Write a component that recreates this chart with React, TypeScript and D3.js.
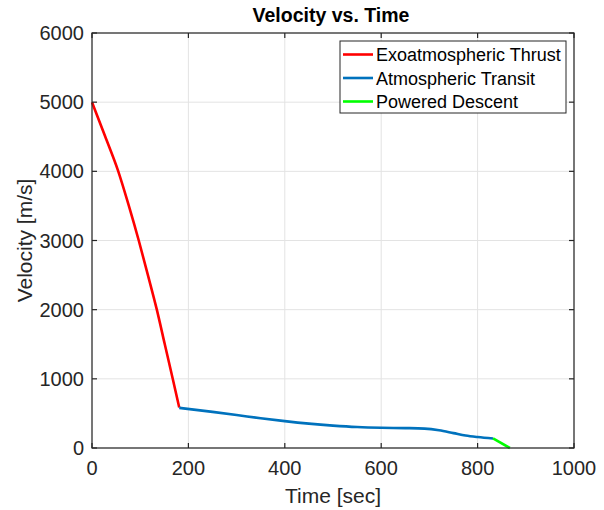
import React from "react";
import * as d3 from "d3";

const thrustTime = [0, 27, 54, 76.5, 97, 116, 134.5, 151, 167.5, 181];
const thrustVel = [5000, 4510, 4010, 3500, 3000, 2500, 2000, 1500, 1000, 585];

const transitTime = [181, 250, 300, 350, 400, 450, 500, 550, 600, 650, 690, 720, 750, 775, 800, 832];
const transitVel = [580, 522, 477, 430, 388, 352, 324, 303, 292, 288, 280, 256, 215, 180, 158, 138];

const descentTime = [832, 867];
const descentVel = [138, 0];

const xTicks = [0, 200, 400, 600, 800, 1000];
const yTicks = [0, 1000, 2000, 3000, 4000, 5000, 6000];

const seriesNames = ["Exoatmospheric Thrust", "Atmospheric Transit", "Powered Descent"];
const seriesColors = ["#ff0000", "#0072bd", "#00ff00"];

const W = 604;
const H = 510;
const L = 92, R = 574, T = 33, B = 448;
const FONT = "'Liberation Sans', Arial, Helvetica, sans-serif";
const AX = "#262626";

export default function App() {
  const x = d3.scaleLinear().domain([0, 1000]).range([L, R]);
  const y = d3.scaleLinear().domain([0, 6000]).range([B, T]);
  const line = d3
    .line<[number, number]>()
    .x((d) => x(d[0]))
    .y((d) => y(d[1]))
    .curve(d3.curveMonotoneX);

  const series = [
    d3.zip(thrustTime, thrustVel) as [number, number][],
    d3.zip(transitTime, transitVel) as [number, number][],
    d3.zip(descentTime, descentVel) as [number, number][],
  ];

  const tickLen = 5;
  const legX = 340, legY = 41, legW = 226, legH = 72;
  const rowY = [54.5, 78, 101.5];

  return (
    <svg
      width={W}
      height={H}
      style={{ position: "absolute", left: 0, top: 0, background: "#fff" }}
      fontFamily={FONT}
    >
      <rect x={0} y={0} width={W} height={H} fill="#fff" />
      <rect x={L} y={T} width={R - L} height={B - T} fill="#fff" />
      {/* grid */}
      {xTicks.map((t) => (
        <line key={"gx" + t} x1={x(t)} x2={x(t)} y1={T} y2={B} stroke="#e3e3e3" strokeWidth={1} />
      ))}
      {yTicks.map((t) => (
        <line key={"gy" + t} x1={L} x2={R} y1={y(t)} y2={y(t)} stroke="#e3e3e3" strokeWidth={1} />
      ))}
      {/* data */}
      {series.map((s, i) => (
        <path
          key={"s" + i}
          d={line(s) || ""}
          fill="none"
          stroke={seriesColors[i]}
          strokeWidth={2.6}
          strokeLinejoin="round"
        />
      ))}
      {/* box */}
      <rect x={L} y={T} width={R - L} height={B - T} fill="none" stroke={AX} strokeWidth={1.2} />
      {/* ticks */}
      {xTicks.map((t) => (
        <g key={"tx" + t}>
          <line x1={x(t)} x2={x(t)} y1={B} y2={B - tickLen} stroke={AX} strokeWidth={1.2} />
          <line x1={x(t)} x2={x(t)} y1={T} y2={T + tickLen} stroke={AX} strokeWidth={1.2} />
          <text x={x(t)} y={475} textAnchor="middle" fontSize={20} fill={AX}>
            {t}
          </text>
        </g>
      ))}
      {yTicks.map((t) => (
        <g key={"ty" + t}>
          <line x1={L} x2={L + tickLen} y1={y(t)} y2={y(t)} stroke={AX} strokeWidth={1.2} />
          <line x1={R} x2={R - tickLen} y1={y(t)} y2={y(t)} stroke={AX} strokeWidth={1.2} />
          <text x={84} y={y(t) + 7} textAnchor="end" fontSize={20} fill={AX}>
            {t}
          </text>
        </g>
      ))}
      {/* labels */}
      <text x={(L + R) / 2} y={503} textAnchor="middle" fontSize={21} fill={AX}>
        Time [sec]
      </text>
      <text
        transform={`translate(32, ${(T + B) / 2}) rotate(-90)`}
        textAnchor="middle"
        fontSize={21}
        fill={AX}
      >
        Velocity [m/s]
      </text>
      <text x={331} y={22} textAnchor="middle" fontSize={19.5} fontWeight="bold" fill="#000">
        Velocity vs. Time
      </text>
      {/* legend */}
      <rect x={legX} y={legY} width={legW} height={legH} fill="#fff" stroke={AX} strokeWidth={1} />
      {seriesNames.map((n, i) => (
        <g key={"lg" + i}>
          <line x1={343} x2={373} y1={rowY[i]} y2={rowY[i]} stroke={seriesColors[i]} strokeWidth={2.6} />
          <text x={376} y={rowY[i] + 6.5} fontSize={18} fill="#000">
            {n}
          </text>
        </g>
      ))}
    </svg>
  );
}
